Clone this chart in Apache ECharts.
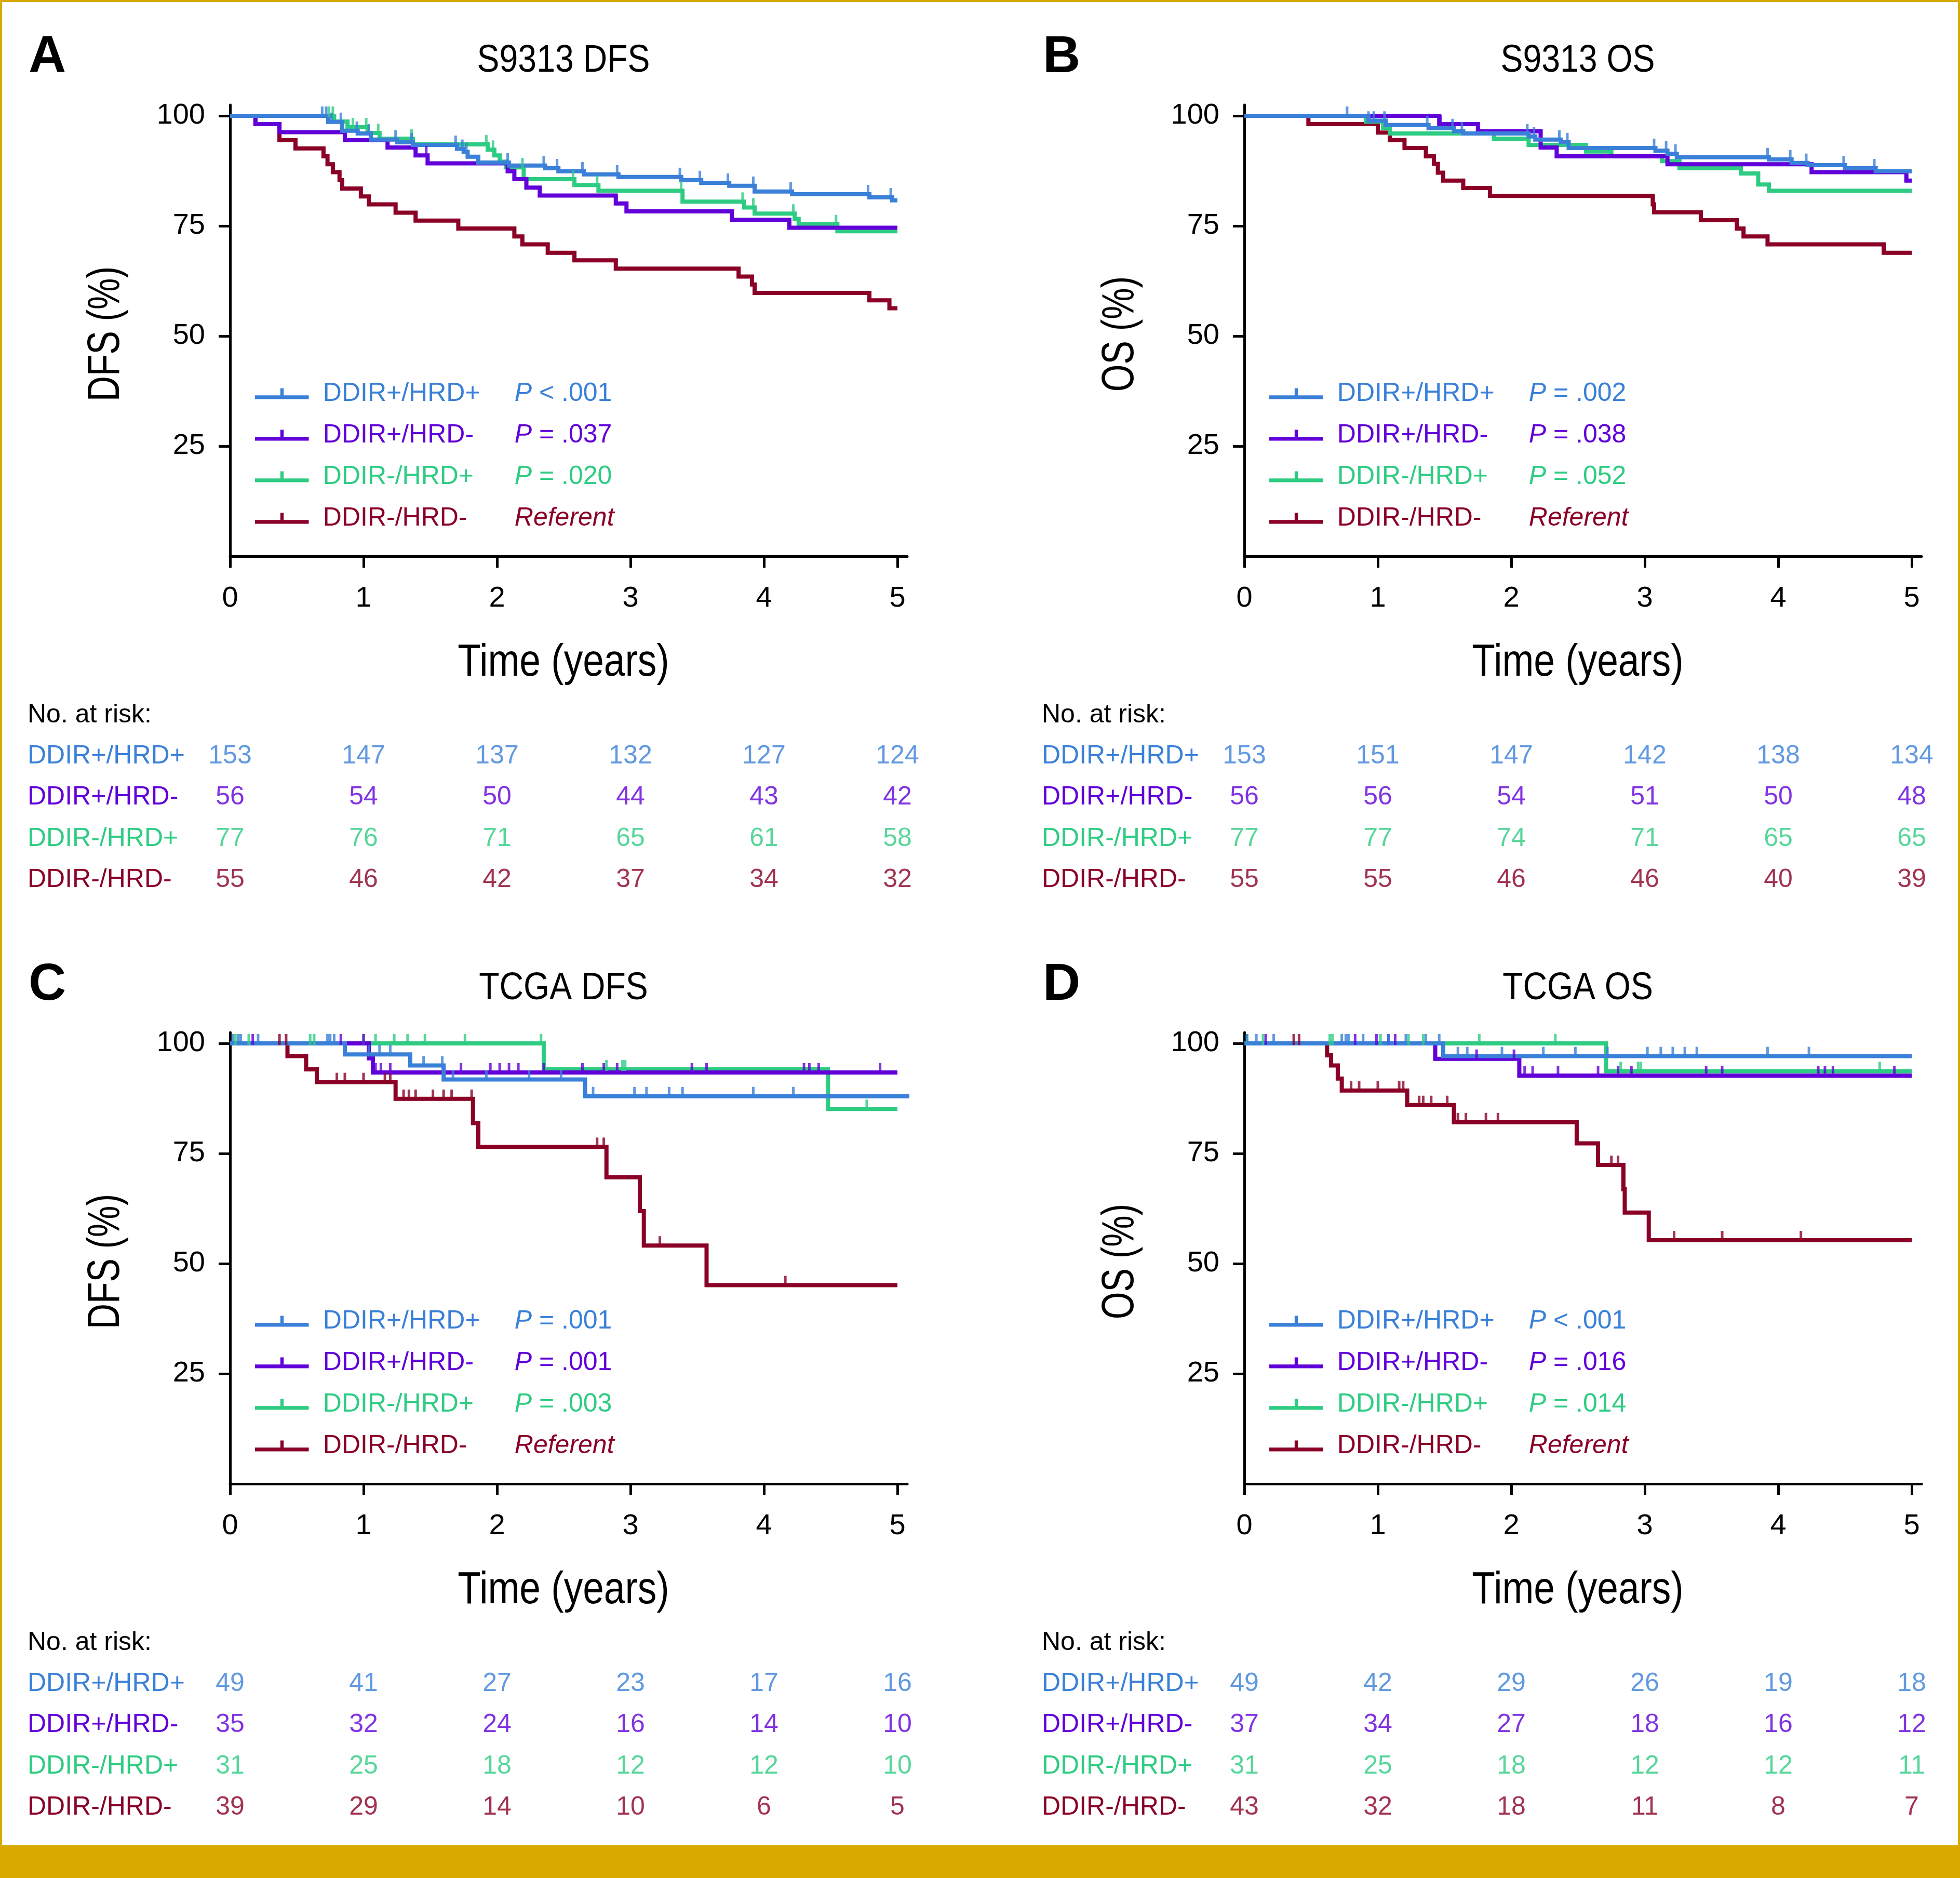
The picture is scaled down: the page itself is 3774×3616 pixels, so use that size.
<!DOCTYPE html>
<html><head><meta charset="utf-8">
<script src="https://cdn.jsdelivr.net/npm/echarts@6/dist/echarts.min.js"></script>
<style>html,body{margin:0;padding:0;background:#fff}#c{width:3774px;height:3616px}</style>
</head><body><div id="c"></div>
<script>
// ---------------- DATA ----------------
const groups = ['DDIR+/HRD+', 'DDIR+/HRD-', 'DDIR-/HRD+', 'DDIR-/HRD-'];
const yearTicks = [0, 1, 2, 3, 4, 5];
const yTicks = [25, 50, 75, 100];
const titles = ['S9313 DFS', 'S9313 OS', 'TCGA DFS', 'TCGA OS'];
const yNames = ['DFS (%)', 'OS (%)', 'DFS (%)', 'OS (%)'];
const panelLetters = ['A', 'B', 'C', 'D'];

// Panel A: S9313 DFS  [time (years), survival (%)]
const aBlue = [[0,100],[0.735,98.6],[0.84,96.6],[0.956,96.0],[1.055,94.6],[1.253,94.0],[1.37,93.4],[1.70,92.5],[1.75,91.8],[1.78,90.7],[1.86,89.4],[2.09,88.7],[2.36,88.1],[2.46,87.4],[2.65,86.7],[2.91,86.1],[3.38,85.4],[3.53,84.8],[3.74,84.1],[3.93,82.8],[4.21,82.2],[4.79,81.5],[4.96,80.8],[5.0,80.8]];
const aPurple = [[0,100],[0.19,98.1],[0.37,96.3],[0.86,94.5],[1.18,92.8],[1.39,91.0],[1.48,89.2],[2.08,87.4],[2.13,85.6],[2.22,83.7],[2.32,81.9],[2.89,80.1],[2.97,78.3],[3.76,76.4],[4.19,74.6],[5.0,74.6]];
const aGreen = [[0,100],[0.78,98.7],[0.88,97.4],[1.03,96.1],[1.12,94.8],[1.37,93.5],[1.93,92.3],[1.98,91.0],[2.02,89.6],[2.07,88.3],[2.20,85.6],[2.58,84.3],[2.76,83.0],[3.39,80.5],[3.85,79.2],[3.93,77.8],[4.23,76.6],[4.26,75.4],[4.55,73.8],[5.0,73.8]];
const aRed = [[0,100],[0.19,98.1],[0.37,94.5],[0.49,92.6],[0.70,90.8],[0.73,89.0],[0.77,87.2],[0.82,85.4],[0.84,83.5],[0.98,81.7],[1.04,79.9],[1.24,78.0],[1.39,76.2],[1.71,74.4],[2.13,72.6],[2.19,70.8],[2.38,68.9],[2.58,67.2],[2.89,65.3],[3.81,63.5],[3.91,61.7],[3.93,59.8],[4.79,58.1],[4.94,56.3],[5.0,56.3]];
const aBlueCens = [0.69,0.72,0.76,0.83,0.95,1.04,1.24,1.36,1.69,1.74,1.77,2.08,2.35,2.45,2.64,2.90,3.37,3.52,3.73,3.92,4.20,4.78,4.95];
const aPurpleCens = [1.47];
const aGreenCens = [0.74,0.77,0.92,1.02,1.11,1.36,1.92,1.97,2.19,2.57,2.75,3.38,3.84,3.92,4.22,4.54];
const aRedCens = [];
const riskA = [[153,147,137,132,127,124],[56,54,50,44,43,42],[77,76,71,65,61,58],[55,46,42,37,34,32]];
const pA = ['< .001', '= .037', '= .020', 'Referent'];

// Panel B: S9313 OS
const bBlue = [[0,100],[0.93,98.9],[1.06,97.9],[1.38,97.2],[1.57,96.5],[1.64,96.0],[2.13,95.3],[2.18,94.6],[2.37,94.0],[2.43,92.7],[3.08,92.1],[3.17,91.4],[3.24,90.6],[3.93,90.1],[4.10,89.3],[4.22,88.8],[4.50,88.1],[4.73,87.4],[5.0,87.4]];
const bPurple = [[0,100],[1.46,98.1],[1.75,96.5],[2.22,92.8],[2.34,90.8],[3.17,89.0],[4.25,87.2],[4.96,85.3],[5.0,85.3]];
const bGreen = [[0,100],[0.91,98.7],[1.04,97.3],[1.09,96.0],[1.87,94.8],[2.13,93.4],[2.56,91.9],[2.75,90.9],[3.13,89.7],[3.26,88.1],[3.72,86.9],[3.85,84.4],[3.93,83.0],[5.0,83.0]];
const bRed = [[0,100],[0.48,98.1],[1.0,96.2],[1.09,94.5],[1.20,92.7],[1.36,90.8],[1.42,89.1],[1.45,87.1],[1.49,85.3],[1.64,83.6],[1.84,81.8],[3.06,79.9],[3.07,78.1],[3.42,76.3],[3.69,74.4],[3.74,72.6],[3.92,70.8],[4.79,68.9],[5.0,68.9]];
const bBlueCens = [0.77,0.93,0.97,1.05,1.37,1.56,1.63,2.12,2.17,2.36,2.42,3.07,3.16,3.23,3.92,4.09,4.21,4.49,4.72];
const bPurpleCens = [1.47];
const bGreenCens = [];
const bRedCens = [];
const riskB = [[153,151,147,142,138,134],[56,56,54,51,50,48],[77,77,74,71,65,65],[55,55,46,46,40,39]];
const pB = ['= .002', '= .038', '= .052', 'Referent'];

// Panel C: TCGA DFS
const cBlue = [[0,100],[0.86,97.5],[1.35,95.0],[1.60,91.8],[2.66,88.0],[5.1,88.0]];
const cPurple = [[0,100],[1.04,96.6],[1.07,93.4],[5.0,93.4]];
const cGreen = [[0,100],[2.35,94.1],[4.48,85.1],[5.0,85.1]];
const cRed = [[0,100],[0.43,97.1],[0.57,94.1],[0.65,91.2],[1.24,87.4],[1.82,81.9],[1.86,76.5],[2.82,69.6],[3.07,61.9],[3.10,54.1],[3.57,45.1],[5.0,45.1]];
const cBlueCens = [0.02,0.06,0.08,0.21,0.73,0.75,0.78,1.04,1.12,1.20,1.45,1.59,1.67,1.92,2.24,2.48,2.72,3.03,3.12,3.29,3.39,3.92,4.22];
const cPurpleCens = [0.17,0.83,1.0,1.09,1.13,1.20,1.73,1.95,2.02,2.09,2.16,2.35,2.64,2.80,2.90,3.46,3.57,4.30,4.34,4.41,4.87];
const cGreenCens = [0.04,0.14,0.60,0.63,1.0,1.09,1.23,1.33,1.46,1.76,2.33,2.82,2.94,2.96,4.77];
const cRedCens = [0.37,0.42,0.80,0.86,1.0,1.16,1.20,1.30,1.34,1.39,1.52,1.60,1.66,1.81,2.75,2.80,3.22,4.16];
const riskC = [[49,41,27,23,17,16],[35,32,24,16,14,10],[31,25,18,12,12,10],[39,29,14,10,6,5]];
const pC = ['= .001', '= .001', '= .003', 'Referent'];

// Panel D: TCGA OS
const dBlue = [[0,100],[1.49,97.1],[5.0,97.1]];
const dPurple = [[0,100],[1.43,96.5],[2.06,92.7],[5.0,92.7]];
const dGreen = [[0,100],[2.71,93.7],[5.0,93.7]];
const dRed = [[0,100],[0.62,97.3],[0.65,95.0],[0.70,92.0],[0.73,89.3],[1.22,86.0],[1.57,82.1],[2.49,77.3],[2.65,72.4],[2.84,66.9],[2.85,61.6],[3.03,55.3],[5.0,55.3]];
const dBlueCens = [0.02,0.09,0.22,0.73,0.76,0.78,0.89,1.08,1.21,1.36,1.46,1.60,1.67,1.93,2.24,2.48,2.72,3.02,3.12,3.21,3.30,3.39,3.92,4.23];
const dPurpleCens = [0.16,0.83,0.99,1.08,1.13,1.74,2.02,2.10,2.16,2.35,2.65,2.80,2.90,3.46,3.58,4.30,4.35,4.41,4.87];
const dGreenCens = [0.02,0.14,0.64,0.66,1.02,1.23,1.34,1.76,2.33,2.82,2.95,2.97,4.76];
const dRedCens = [0.37,0.41,0.80,0.86,1.0,1.16,1.19,1.31,1.34,1.40,1.52,1.60,1.66,1.81,1.90,2.75,2.80,3.22,3.58,4.17];
const riskD = [[49,42,29,26,19,18],[37,34,27,18,16,12],[31,25,18,12,12,11],[43,32,18,11,8,7]];
const pD = ['< .001', '= .016', '= .014', 'Referent'];

// ---------------- STYLE / LAYOUT ----------------
const COLORS = ['#3a80d8', '#6100d9', '#2ecc82', '#8a0026'];
const GOLD = '#d9a900';
const FONT = "'Liberation Sans', Arial, Helvetica, sans-serif";
const PX_PER_YEAR = 257, PX_PER_PCT = 8.48;
const PLOT_W = 1304, PLOT_H = 869;
const X_MAX = PLOT_W / PX_PER_YEAR, Y_MAX = PLOT_H / PX_PER_PCT;
const ICON = 'path://M0,14H106V21.5H0Z M50,0H56.5V14H50Z';

const panels = [
  {curves:[aBlue,aPurple,aGreen,aRed], cens:[aBlueCens,aPurpleCens,aGreenCens,aRedCens], risk:riskA, p:pA, ox:0, oy:0},
  {curves:[bBlue,bPurple,bGreen,bRed], cens:[bBlueCens,bPurpleCens,bGreenCens,bRedCens], risk:riskB, p:pB, ox:1953, oy:0},
  {curves:[cBlue,cPurple,cGreen,cRed], cens:[cBlueCens,cPurpleCens,cGreenCens,cRedCens], risk:riskC, p:pC, ox:0, oy:1786},
  {curves:[dBlue,dPurple,dGreen,dRed], cens:[dBlueCens,dPurpleCens,dGreenCens,dRedCens], risk:riskD, p:pD, ox:1953, oy:1786}
];

function survAt(curve, t) {
  let s = curve[0][1];
  for (const pt of curve) { if (pt[0] <= t) s = pt[1]; else break; }
  return s;
}

const grid = [], xAxis = [], yAxis = [], series = [], legend = [], graphic = [];
const drawOrder = [3, 2, 1, 0];

panels.forEach((P, pi) => {
  const L = panelLetters[pi];
  const gx = 443 + P.ox, gy = 202 + P.oy;
  // main plot grid
  grid.push({left: gx, top: gy, width: PLOT_W, height: PLOT_H});
  const gMain = grid.length - 1;
  xAxis.push({
    gridIndex: gMain, type: 'value', min: 0, max: X_MAX, interval: 1,
    axisLine: {show: true, onZero: false, lineStyle: {color: '#000', width: 5}},
    axisTick: {show: true, length: 22, customValues: yearTicks, lineStyle: {color: '#000', width: 5}},
    axisLabel: {show: true, customValues: yearTicks, margin: 54, fontSize: 56, color: '#000', fontFamily: FONT},
    splitLine: {show: false}
  });
  yAxis.push({
    gridIndex: gMain, type: 'value', min: 0, max: Y_MAX, interval: 25,
    axisLine: {show: true, onZero: false, lineStyle: {color: '#000', width: 5}},
    axisTick: {show: true, length: 22, customValues: yTicks, lineStyle: {color: '#000', width: 5}},
    axisLabel: {show: true, customValues: yTicks, margin: 48, fontSize: 56, color: '#000', fontFamily: FONT},
    splitLine: {show: false}
  });
  drawOrder.forEach(gi => {
    const name = L + '|' + groups[gi];
    series.push({
      type: 'line', name: name, xAxisIndex: gMain, yAxisIndex: gMain,
      data: P.curves[gi], step: 'end', showSymbol: false, symbol: 'none',
      lineStyle: {color: COLORS[gi], width: 8, cap: 'butt', join: 'miter'},
      itemStyle: {color: COLORS[gi]}, silent: true, z: 2
    });
    series.push({
      type: 'scatter', name: name, xAxisIndex: gMain, yAxisIndex: gMain,
      data: P.cens[gi].map(t => [t, survAt(P.curves[gi], t)]),
      symbol: 'rect', symbolSize: [5, 21], symbolOffset: [0, -7.5],
      itemStyle: {color: COLORS[gi]}, silent: true, z: 2
    });
  });
  // legend
  const rich = {s: {width: 21}};
  COLORS.forEach((c, i) => {
    rich['n' + i] = {width: 369, color: c, fontSize: 50, fontFamily: FONT};
    rich['p' + i] = {color: c, fontSize: 50, fontFamily: FONT, fontStyle: 'italic'};
    rich['v' + i] = {color: c, fontSize: 50, fontFamily: FONT};
  });
  legend.push({
    orient: 'vertical', left: 491 + P.ox, top: 733 + P.oy, padding: 0,
    itemWidth: 106, itemHeight: 21, itemGap: 30, icon: ICON, selectedMode: false,
    data: groups.map((g, i) => ({name: L + '|' + g, itemStyle: {color: COLORS[i]}})),
    formatter: (name) => {
      const g = name.split('|')[1];
      const i = groups.indexOf(g);
      const pv = P.p[i];
      if (pv === 'Referent') return '{s|}{n' + i + '|' + g + '}{p' + i + '|Referent}';
      return '{s|}{n' + i + '|' + g + '}{p' + i + '|P}{v' + i + '| ' + pv + '}';
    },
    textStyle: {fontSize: 50, fontFamily: FONT, rich: rich}
  });
  // risk table grid
  grid.push({left: gx, top: 1416 + P.oy, width: PLOT_W, height: 318});
  const gRisk = grid.length - 1;
  xAxis.push({gridIndex: gRisk, type: 'value', min: 0, max: X_MAX, show: false});
  yAxis.push({
    gridIndex: gRisk, type: 'category', data: groups, inverse: true,
    axisLine: {show: false}, axisTick: {show: false}, splitLine: {show: false},
    axisLabel: {show: true, align: 'left', margin: 390, fontSize: 50, fontFamily: FONT,
      color: (v) => COLORS[groups.indexOf(v)]}
  });
  groups.forEach((g, gi) => {
    series.push({
      type: 'scatter', xAxisIndex: gRisk, yAxisIndex: gRisk, silent: true,
      data: yearTicks.map((t, k) => [t, g, P.risk[gi][k]]),
      symbolSize: 1, itemStyle: {color: 'rgba(0,0,0,0)'},
      label: {show: true, position: 'inside', formatter: (p) => String(p.value[2]),
        color: COLORS[gi], fontSize: 50, fontFamily: FONT}
    });
  });
  // texts
  graphic.push({type: 'text', x: 55 + P.ox, y: 111 + P.oy, style: {text: L, font: 'bold 100px ' + FONT, fill: '#000', textAlign: 'left', textVerticalAlign: 'middle'}});
  graphic.push({type: 'text', x: 1085 + P.ox, y: 118 + P.oy, scaleX: 0.87, style: {text: titles[pi], font: '74px ' + FONT, fill: '#000', textAlign: 'center', textVerticalAlign: 'middle'}});
  graphic.push({type: 'text', x: 1085 + P.ox, y: 1277 + P.oy, scaleX: 0.84, style: {text: 'Time (years)', font: '87px ' + FONT, fill: '#000', textAlign: 'center', textVerticalAlign: 'middle'}});
  graphic.push({type: 'text', x: 205 + P.ox, y: 643 + P.oy, rotation: Math.PI / 2, scaleX: 0.78, style: {text: yNames[pi], font: '87px ' + FONT, fill: '#000', textAlign: 'center', textVerticalAlign: 'middle'}});
  graphic.push({type: 'text', x: 53 + P.ox, y: 1377 + P.oy, style: {text: 'No. at risk:', font: '50px ' + FONT, fill: '#000', textAlign: 'left', textVerticalAlign: 'middle'}});
});

// border frame
graphic.push({type: 'rect', shape: {x: 0, y: 0, width: 3774, height: 4}, style: {fill: GOLD}, z: 100});
graphic.push({type: 'rect', shape: {x: 0, y: 0, width: 4, height: 3616}, style: {fill: GOLD}, z: 100});
graphic.push({type: 'rect', shape: {x: 3770, y: 0, width: 4, height: 3616}, style: {fill: GOLD}, z: 100});
graphic.push({type: 'rect', shape: {x: 0, y: 3553, width: 3774, height: 63}, style: {fill: GOLD}, z: 100});

const chart = echarts.init(document.getElementById('c'), null, {renderer: 'canvas', devicePixelRatio: 1});
chart.setOption({
  animation: false,
  backgroundColor: '#fff',
  grid: grid, xAxis: xAxis, yAxis: yAxis, series: series, legend: legend, graphic: graphic
});
</script></body></html>
